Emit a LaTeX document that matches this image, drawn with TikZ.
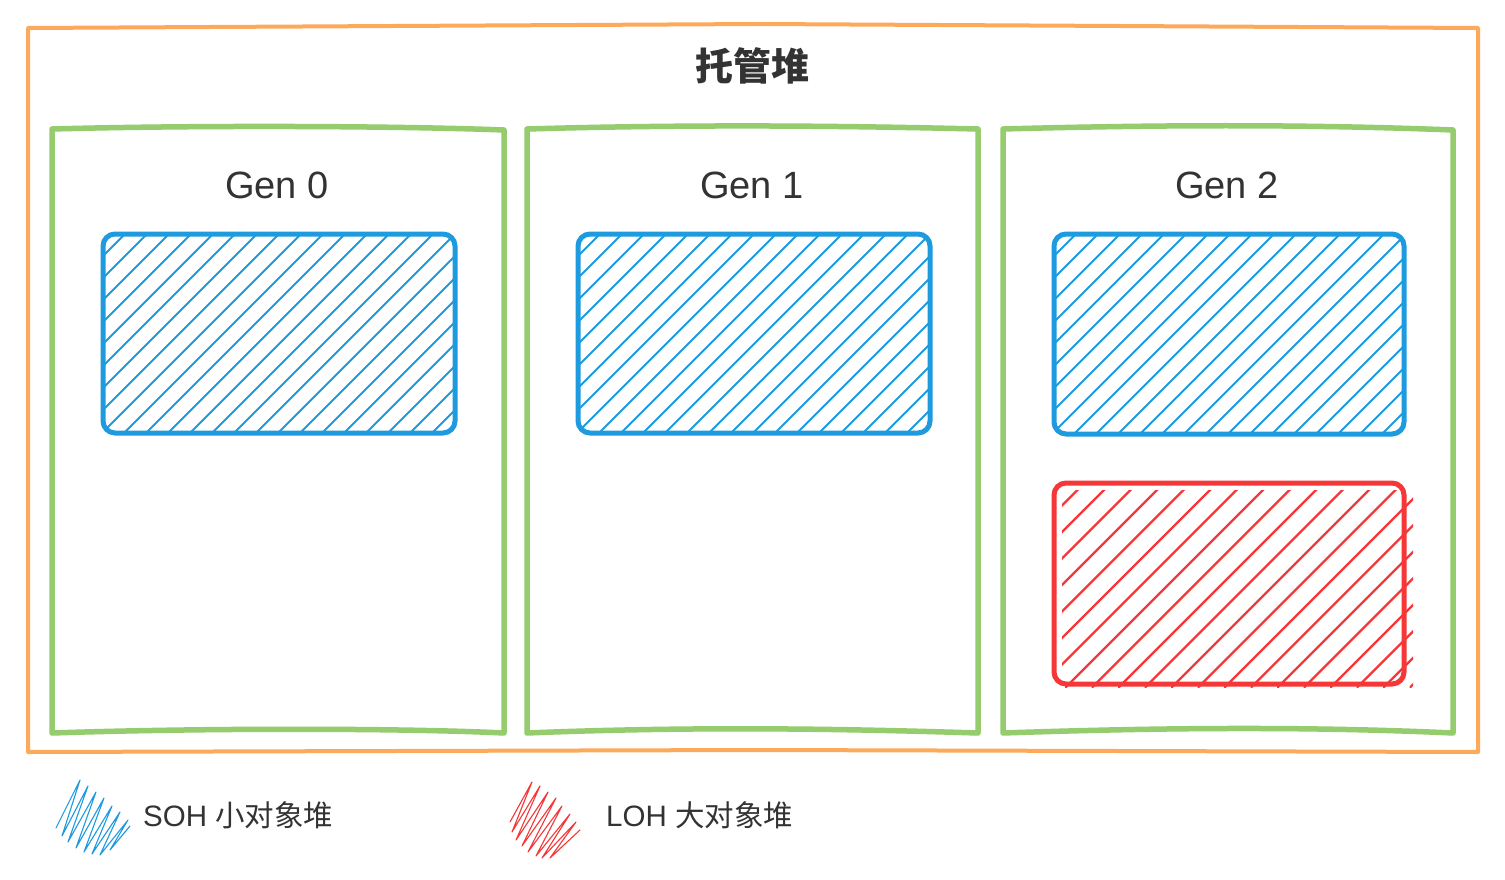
\documentclass[tikz,border=0pt]{standalone}
\usepackage{fontspec}
\setmainfont{Liberation Sans}
\newfontfamily\cjk{Noto Sans CJK SC}
\definecolor{orangeline}{HTML}{FCAA5A}
\definecolor{greenline}{HTML}{94CC6E}
\definecolor{blueline}{HTML}{1E9BDE}
\definecolor{redline}{HTML}{F53737}
\definecolor{ink}{HTML}{333333}
\tikzset{
  outerbox/.style={draw=orangeline, line width=4pt, line join=round},
  genbox/.style={draw=greenline, line width=5.5pt, line join=round},
  sohbox/.style={draw=blueline, line width=5pt, rounded corners=12pt},
  lohbox/.style={draw=redline, line width=5pt, rounded corners=12pt},
  hatchline/.style={line width=1.8pt, line cap=round},
  genlabel/.style={text=ink, font=\fontsize{38}{40}\selectfont, inner sep=0pt},
  legendlabel/.style={text=ink, font=\fontsize{29.5}{31}\selectfont, inner sep=0pt, anchor=west},
  scribble/.style={line width=1.1pt, line cap=round, line join=round},
}
\newcommand\hatchfill[6]{%
  \begin{scope}
    \clip[rounded corners=12pt] (#1,#2) rectangle (#3,#4);
    \pgfmathsetmacro\hh{#4-#2}
    \foreach \k in {0,...,40} {
      \draw[hatchline, draw=#5] ({#1-\hh+#6+\k*22},#4) -- ++(\hh,-\hh);
    }
  \end{scope}}
\begin{document}
\begin{tikzpicture}[x=1pt,y=-1pt]
\useasboundingbox (0,0) rectangle (1505,880);
\fill[white] (0,0) rectangle (1505,880);

% outer managed heap
\draw[outerbox] (28,28) -- (760,24) -- (1478,28) -- (1478,752) -- (760,750) -- (28,752) -- cycle;
\node[text=ink, font=\cjk\bfseries\fontsize{38}{40}\selectfont, inner sep=0pt] (title) at (752,66) {托管堆};

% generation boxes
\draw[genbox] (52,129) .. controls (200,125) and (400,126) .. (504,130) -- (504,733) .. controls (400,728) and (200,728) .. (52,733) -- cycle;
\draw[genbox] (527,129) .. controls (700,124) and (850,126) .. (978,129) -- (978,733) .. controls (850,729) and (700,726) .. (527,733) -- cycle;
\draw[genbox] (1003,129) .. controls (1150,125) and (1300,124) .. (1453,130) -- (1453,733) .. controls (1300,726) and (1150,728) .. (1003,733) -- cycle;

\node[genlabel] (g0) at (277,185) {Gen 0};
\node[genlabel] (g1) at (752,185) {Gen 1};
\node[genlabel] (g2) at (1227,185) {Gen 2};

% SOH boxes
\hatchfill{103}{234}{455}{433}{blueline}{0}
\hatchfill{578}{234}{930}{433}{blueline}{0}
\hatchfill{1054}{234}{1404}{434}{blueline}{0}
\draw[sohbox] (103,234) rectangle (455,433);
\draw[sohbox] (578,234) rectangle (930,433);
\draw[sohbox] (1054,234) rectangle (1404,434);

% LOH box
\begin{scope}
  \clip (1062,490) rectangle (1413,690);
  \foreach \k in {0,...,30} {
    \draw[line width=2.4pt, line cap=round, draw=redline] ({1054-200+\k*26.5},687) -- ++(200,-200);
  }
\end{scope}
\draw[lohbox] (1054,483) rectangle (1404,684);

% legend
\draw[scribble, draw=blueline]
  (56,828) -- (80,780) -- (62,836) -- (88,786) -- (68,842) -- (96,792) -- (76,848) -- (104,798)
  -- (84,852) -- (112,806) -- (92,854) -- (120,812) -- (100,855) -- (128,820) -- (110,850) -- (130,826);
\node[legendlabel] (soh) at (143,815) {SOH {\cjk 小对象堆}};

\draw[scribble, draw=redline]
  (510,822) -- (532,782) -- (512,832) -- (540,786) -- (516,840) -- (548,792) -- (522,846) -- (556,798)
  -- (528,852) -- (562,806) -- (536,856) -- (570,814) -- (542,858) -- (576,822) -- (550,858) -- (580,830);
\node[legendlabel] (loh) at (606,815) {LOH {\cjk 大对象堆}};
\end{tikzpicture}
\end{document}
